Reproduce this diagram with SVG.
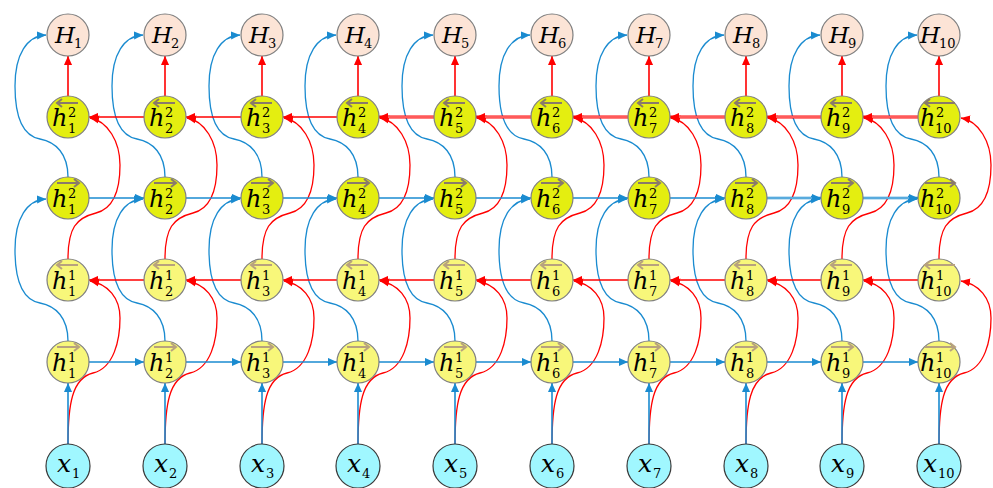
<svg xmlns="http://www.w3.org/2000/svg" width="993" height="488" viewBox="0 0 993 488">
<defs>
<marker id="mb" viewBox="0 0 10 10" refX="10" refY="5" markerWidth="9" markerHeight="9" markerUnits="userSpaceOnUse" orient="auto"><path d="M0,0.5 L10,5 L0,9.5 z" fill="#1A8BD0"/></marker>
<marker id="mr" viewBox="0 0 10 10" refX="10" refY="5" markerWidth="9" markerHeight="9" markerUnits="userSpaceOnUse" orient="auto"><path d="M0,0.5 L10,5 L0,9.5 z" fill="#FF0000"/></marker>
<path id="cA" d="M0,0 c0,-23 -12,-35 -28,-38 c-22,-4 -25,-33 -25,-53 c0,-32 12,-50 31,-51"/>
<path id="cB" d="M0,0 c0,-39 4,-66 25,-71 c21,-5 27,-33 27,-55 c0,-20 -12,-34 -30,-37"/>
<path id="cD" d="M0,0 c0,-31 8,-41 28,-46 c20,-5 24,-28 24,-48 c0,-23 -12,-44 -30,-47"/>
</defs>
<style>
.nH{fill:#FCE4D6;stroke:#7F7F7F;stroke-width:1.2}
.n2{fill:#E4EE10;stroke:#7F7F7F;stroke-width:1.2}
.n1{fill:#F8F77A;stroke:#7F7F7F;stroke-width:1.2}
.nX{fill:#A0F7FF;stroke:#3A3A3A;stroke-width:1.2}
.t{font-family:"DejaVu Serif","Liberation Serif",serif;font-style:italic;fill:#000}
.d{font-family:"DejaVu Serif","Liberation Serif",serif;font-style:normal;fill:#000;font-size:13px}
.ov2{fill:none;stroke:#8A7A6A;stroke-width:2}
.ov1{fill:none;stroke:#B8A27E;stroke-width:2}
.bl{fill:none;stroke:#1A8BD0;stroke-width:1.3;marker-end:url(#mb)}
.rd{fill:none;stroke:#FF0000;stroke-width:1.3;marker-end:url(#mr)}
.bs{fill:none;stroke:#1A8BD0;stroke-width:1.6;marker-end:url(#mb)}
.rs{fill:none;stroke:#FF0000;stroke-width:1.6;marker-end:url(#mr)}
.rw{fill:none;stroke:#FF0000;stroke-width:3;marker-end:url(#mr)}
.bw{fill:none;stroke:#1A8BD0;stroke-width:2.4;marker-end:url(#mb)}
.rc{fill:none;stroke:#FFB4B4;stroke-width:1}
.bc{fill:none;stroke:#CFE6F6;stroke-width:0.7}
</style>
<rect width="993" height="488" fill="#FFFFFF"/>
<g id="connectors">
<g transform="translate(68,0)"><use href="#cA" class="bl" y="341"/><use href="#cA" class="bl" y="177"/><use href="#cB" class="rd" y="444"/><use href="#cD" class="rd" y="259"/><line class="bs" x1="0" y1="444" x2="0" y2="383"/><line class="rs" x1="0" y1="96" x2="0" y2="56"/></g>
<g transform="translate(165,0)"><use href="#cA" class="bl" y="341"/><use href="#cA" class="bl" y="177"/><use href="#cB" class="rd" y="444"/><use href="#cD" class="rd" y="259"/><line class="bs" x1="0" y1="444" x2="0" y2="383"/><line class="rs" x1="0" y1="96" x2="0" y2="56"/></g>
<g transform="translate(262,0)"><use href="#cA" class="bl" y="341"/><use href="#cA" class="bl" y="177"/><use href="#cB" class="rd" y="444"/><use href="#cD" class="rd" y="259"/><line class="bs" x1="0" y1="444" x2="0" y2="383"/><line class="rs" x1="0" y1="96" x2="0" y2="56"/></g>
<g transform="translate(358,0)"><use href="#cA" class="bl" y="341"/><use href="#cA" class="bl" y="177"/><use href="#cB" class="rd" y="444"/><use href="#cD" class="rd" y="259"/><line class="bs" x1="0" y1="444" x2="0" y2="383"/><line class="rs" x1="0" y1="96" x2="0" y2="56"/></g>
<g transform="translate(455,0)"><use href="#cA" class="bl" y="341"/><use href="#cA" class="bl" y="177"/><use href="#cB" class="rd" y="444"/><use href="#cD" class="rd" y="259"/><line class="bs" x1="0" y1="444" x2="0" y2="383"/><line class="rs" x1="0" y1="96" x2="0" y2="56"/></g>
<g transform="translate(552,0)"><use href="#cA" class="bl" y="341"/><use href="#cA" class="bl" y="177"/><use href="#cB" class="rd" y="444"/><use href="#cD" class="rd" y="259"/><line class="bs" x1="0" y1="444" x2="0" y2="383"/><line class="rs" x1="0" y1="96" x2="0" y2="56"/></g>
<g transform="translate(649,0)"><use href="#cA" class="bl" y="341"/><use href="#cA" class="bl" y="177"/><use href="#cB" class="rd" y="444"/><use href="#cD" class="rd" y="259"/><line class="bs" x1="0" y1="444" x2="0" y2="383"/><line class="rs" x1="0" y1="96" x2="0" y2="56"/></g>
<g transform="translate(746,0)"><use href="#cA" class="bl" y="341"/><use href="#cA" class="bl" y="177"/><use href="#cB" class="rd" y="444"/><use href="#cD" class="rd" y="259"/><line class="bs" x1="0" y1="444" x2="0" y2="383"/><line class="rs" x1="0" y1="96" x2="0" y2="56"/></g>
<g transform="translate(842,0)"><use href="#cA" class="bl" y="341"/><use href="#cA" class="bl" y="177"/><use href="#cB" class="rd" y="444"/><use href="#cD" class="rd" y="259"/><line class="bs" x1="0" y1="444" x2="0" y2="383"/><line class="rs" x1="0" y1="96" x2="0" y2="56"/></g>
<g transform="translate(939,0)"><use href="#cA" class="bl" y="341"/><use href="#cA" class="bl" y="177"/><use href="#cB" class="rd" y="444"/><use href="#cD" class="rd" y="259"/><line class="bs" x1="0" y1="444" x2="0" y2="383"/><line class="rs" x1="0" y1="96" x2="0" y2="56"/></g>
<line class="bs" x1="89" y1="362" x2="144" y2="362"/><line class="bs" x1="186" y1="362" x2="241" y2="362"/><line class="bs" x1="283" y1="362" x2="337" y2="362"/><line class="bs" x1="379" y1="362" x2="434" y2="362"/><line class="bs" x1="476" y1="362" x2="531" y2="362"/><line class="bs" x1="573" y1="362" x2="628" y2="362"/><line class="bs" x1="670" y1="362" x2="725" y2="362"/><line class="bs" x1="767" y1="362" x2="821" y2="362"/><line class="bs" x1="863" y1="362" x2="918" y2="362"/>
<line class="bs" x1="89" y1="198" x2="144" y2="198"/><line class="bs" x1="186" y1="198" x2="241" y2="198"/><line class="bs" x1="283" y1="198" x2="337" y2="198"/><line class="bs" x1="379" y1="198" x2="434" y2="198"/><line class="bs" x1="476" y1="198" x2="531" y2="198"/><line class="bs" x1="573" y1="198" x2="628" y2="198"/><line class="bs" x1="670" y1="198" x2="725" y2="198"/><line class="bw" x1="767" y1="198" x2="821" y2="198"/><line class="bc" x1="767" y1="198" x2="812" y2="198"/><line class="bw" x1="863" y1="198" x2="918" y2="198"/><line class="bc" x1="863" y1="198" x2="909" y2="198"/>
<line class="rs" x1="144" y1="280" x2="89" y2="280"/><line class="rs" x1="241" y1="280" x2="186" y2="280"/><line class="rs" x1="337" y1="280" x2="283" y2="280"/><line class="rs" x1="434" y1="280" x2="379" y2="280"/><line class="rs" x1="531" y1="280" x2="476" y2="280"/><line class="rs" x1="628" y1="280" x2="573" y2="280"/><line class="rs" x1="725" y1="280" x2="670" y2="280"/><line class="rs" x1="821" y1="280" x2="767" y2="280"/><line class="rs" x1="918" y1="280" x2="863" y2="280"/>
<line class="rs" x1="144" y1="117" x2="89" y2="117"/><line class="rs" x1="241" y1="117" x2="186" y2="117"/><line class="rs" x1="337" y1="117" x2="283" y2="117"/>
<line class="rw" x1="434" y1="117" x2="379" y2="117"/><line class="rc" x1="434" y1="117" x2="388" y2="117"/>
<line class="rw" x1="531" y1="117" x2="476" y2="117"/><line class="rc" x1="531" y1="117" x2="485" y2="117"/>
<line class="rw" x1="628" y1="117" x2="573" y2="117"/><line class="rc" x1="628" y1="117" x2="582" y2="117"/>
<line class="rw" x1="725" y1="117" x2="670" y2="117"/><line class="rc" x1="725" y1="117" x2="679" y2="117"/>
<line class="rw" x1="821" y1="117" x2="767" y2="117"/><line class="rc" x1="821" y1="117" x2="776" y2="117"/>
<line class="rw" x1="918" y1="117" x2="863" y2="117"/><line class="rc" x1="918" y1="117" x2="872" y2="117"/>
</g>
<g id="nodes">
<g id="H1" transform="translate(68,35)"><circle class="nH" r="21"/><text class="t" x="-13" y="8" font-size="23">H</text><text class="d" x="6" y="13">1</text></g>
<g id="H2" transform="translate(165,35)"><circle class="nH" r="21"/><text class="t" x="-13" y="8" font-size="23">H</text><text class="d" x="6" y="13">2</text></g>
<g id="H3" transform="translate(262,35)"><circle class="nH" r="21"/><text class="t" x="-13" y="8" font-size="23">H</text><text class="d" x="6" y="13">3</text></g>
<g id="H4" transform="translate(358,35)"><circle class="nH" r="21"/><text class="t" x="-13" y="8" font-size="23">H</text><text class="d" x="6" y="13">4</text></g>
<g id="H5" transform="translate(455,35)"><circle class="nH" r="21"/><text class="t" x="-13" y="8" font-size="23">H</text><text class="d" x="6" y="13">5</text></g>
<g id="H6" transform="translate(552,35)"><circle class="nH" r="21"/><text class="t" x="-13" y="8" font-size="23">H</text><text class="d" x="6" y="13">6</text></g>
<g id="H7" transform="translate(649,35)"><circle class="nH" r="21"/><text class="t" x="-13" y="8" font-size="23">H</text><text class="d" x="6" y="13">7</text></g>
<g id="H8" transform="translate(746,35)"><circle class="nH" r="21"/><text class="t" x="-13" y="8" font-size="23">H</text><text class="d" x="6" y="13">8</text></g>
<g id="H9" transform="translate(842,35)"><circle class="nH" r="21"/><text class="t" x="-13" y="8" font-size="23">H</text><text class="d" x="6" y="13">9</text></g>
<g id="H10" transform="translate(939,35)"><circle class="nH" r="21"/><text class="t" x="-19" y="8" font-size="23">H</text><text class="d" x="0" y="13">10</text></g>
<g id="h2b1" transform="translate(68,117)"><circle class="n2" r="21"/><path class="ov2" d="M10,-14 H-11 M-6,-18 L-11,-14 L-6,-10"/><text class="t" x="-16" y="9" font-size="24">h</text><text class="d" x="0" y="0">2</text><text class="d" x="0" y="16">1</text></g>
<g id="h2b2" transform="translate(165,117)"><circle class="n2" r="21"/><path class="ov2" d="M10,-14 H-11 M-6,-18 L-11,-14 L-6,-10"/><text class="t" x="-16" y="9" font-size="24">h</text><text class="d" x="0" y="0">2</text><text class="d" x="0" y="16">2</text></g>
<g id="h2b3" transform="translate(262,117)"><circle class="n2" r="21"/><path class="ov2" d="M10,-14 H-11 M-6,-18 L-11,-14 L-6,-10"/><text class="t" x="-16" y="9" font-size="24">h</text><text class="d" x="0" y="0">2</text><text class="d" x="0" y="16">3</text></g>
<g id="h2b4" transform="translate(358,117)"><circle class="n2" r="21"/><path class="ov2" d="M10,-14 H-11 M-6,-18 L-11,-14 L-6,-10"/><text class="t" x="-16" y="9" font-size="24">h</text><text class="d" x="0" y="0">2</text><text class="d" x="0" y="16">4</text></g>
<g id="h2b5" transform="translate(455,117)"><circle class="n2" r="21"/><path class="ov2" d="M10,-14 H-11 M-6,-18 L-11,-14 L-6,-10"/><text class="t" x="-16" y="9" font-size="24">h</text><text class="d" x="0" y="0">2</text><text class="d" x="0" y="16">5</text></g>
<g id="h2b6" transform="translate(552,117)"><circle class="n2" r="21"/><path class="ov2" d="M10,-14 H-11 M-6,-18 L-11,-14 L-6,-10"/><text class="t" x="-16" y="9" font-size="24">h</text><text class="d" x="0" y="0">2</text><text class="d" x="0" y="16">6</text></g>
<g id="h2b7" transform="translate(649,117)"><circle class="n2" r="21"/><path class="ov2" d="M10,-14 H-11 M-6,-18 L-11,-14 L-6,-10"/><text class="t" x="-16" y="9" font-size="24">h</text><text class="d" x="0" y="0">2</text><text class="d" x="0" y="16">7</text></g>
<g id="h2b8" transform="translate(746,117)"><circle class="n2" r="21"/><path class="ov2" d="M10,-14 H-11 M-6,-18 L-11,-14 L-6,-10"/><text class="t" x="-16" y="9" font-size="24">h</text><text class="d" x="0" y="0">2</text><text class="d" x="0" y="16">8</text></g>
<g id="h2b9" transform="translate(842,117)"><circle class="n2" r="21"/><path class="ov2" d="M10,-14 H-11 M-6,-18 L-11,-14 L-6,-10"/><text class="t" x="-16" y="9" font-size="24">h</text><text class="d" x="0" y="0">2</text><text class="d" x="0" y="16">9</text></g>
<g id="h2b10" transform="translate(939,117)"><circle class="n2" r="21"/><path class="ov2" d="M16,-14 H-14 M-9,-18 L-14,-14 L-9,-10"/><text class="t" x="-19" y="9" font-size="24">h</text><text class="d" x="-3" y="0">2</text><text class="d" x="-4" y="16">10</text></g>
<g id="h2f1" transform="translate(68,198)"><circle class="n2" r="21"/><path class="ov2" d="M-11,-15 H11 M6,-19 L11,-15 L6,-11"/><text class="t" x="-16" y="9" font-size="24">h</text><text class="d" x="0" y="0">2</text><text class="d" x="0" y="16">1</text></g>
<g id="h2f2" transform="translate(165,198)"><circle class="n2" r="21"/><path class="ov2" d="M-11,-15 H11 M6,-19 L11,-15 L6,-11"/><text class="t" x="-16" y="9" font-size="24">h</text><text class="d" x="0" y="0">2</text><text class="d" x="0" y="16">2</text></g>
<g id="h2f3" transform="translate(262,198)"><circle class="n2" r="21"/><path class="ov2" d="M-11,-15 H11 M6,-19 L11,-15 L6,-11"/><text class="t" x="-16" y="9" font-size="24">h</text><text class="d" x="0" y="0">2</text><text class="d" x="0" y="16">3</text></g>
<g id="h2f4" transform="translate(358,198)"><circle class="n2" r="21"/><path class="ov2" d="M-11,-15 H11 M6,-19 L11,-15 L6,-11"/><text class="t" x="-16" y="9" font-size="24">h</text><text class="d" x="0" y="0">2</text><text class="d" x="0" y="16">4</text></g>
<g id="h2f5" transform="translate(455,198)"><circle class="n2" r="21"/><path class="ov2" d="M-11,-15 H11 M6,-19 L11,-15 L6,-11"/><text class="t" x="-16" y="9" font-size="24">h</text><text class="d" x="0" y="0">2</text><text class="d" x="0" y="16">5</text></g>
<g id="h2f6" transform="translate(552,198)"><circle class="n2" r="21"/><path class="ov2" d="M-11,-15 H11 M6,-19 L11,-15 L6,-11"/><text class="t" x="-16" y="9" font-size="24">h</text><text class="d" x="0" y="0">2</text><text class="d" x="0" y="16">6</text></g>
<g id="h2f7" transform="translate(649,198)"><circle class="n2" r="21"/><path class="ov2" d="M-11,-15 H11 M6,-19 L11,-15 L6,-11"/><text class="t" x="-16" y="9" font-size="24">h</text><text class="d" x="0" y="0">2</text><text class="d" x="0" y="16">7</text></g>
<g id="h2f8" transform="translate(746,198)"><circle class="n2" r="21"/><path class="ov2" d="M-11,-15 H11 M6,-19 L11,-15 L6,-11"/><text class="t" x="-16" y="9" font-size="24">h</text><text class="d" x="0" y="0">2</text><text class="d" x="0" y="16">8</text></g>
<g id="h2f9" transform="translate(842,198)"><circle class="n2" r="21"/><path class="ov2" d="M-11,-15 H11 M6,-19 L11,-15 L6,-11"/><text class="t" x="-16" y="9" font-size="24">h</text><text class="d" x="0" y="0">2</text><text class="d" x="0" y="16">9</text></g>
<g id="h2f10" transform="translate(939,198)"><circle class="n2" r="21"/><path class="ov2" d="M-14,-15 H16 M11,-19 L16,-15 L11,-11"/><text class="t" x="-19" y="9" font-size="24">h</text><text class="d" x="-3" y="0">2</text><text class="d" x="-4" y="16">10</text></g>
<g id="h1b1" transform="translate(68,280)"><circle class="n1" r="21"/><path class="ov1" d="M10,-15 H-11 M-6,-19 L-11,-15 L-6,-11"/><text class="t" x="-16" y="9" font-size="24">h</text><text class="d" x="0" y="0">1</text><text class="d" x="0" y="16">1</text></g>
<g id="h1b2" transform="translate(165,280)"><circle class="n1" r="21"/><path class="ov1" d="M10,-15 H-11 M-6,-19 L-11,-15 L-6,-11"/><text class="t" x="-16" y="9" font-size="24">h</text><text class="d" x="0" y="0">1</text><text class="d" x="0" y="16">2</text></g>
<g id="h1b3" transform="translate(262,280)"><circle class="n1" r="21"/><path class="ov1" d="M10,-15 H-11 M-6,-19 L-11,-15 L-6,-11"/><text class="t" x="-16" y="9" font-size="24">h</text><text class="d" x="0" y="0">1</text><text class="d" x="0" y="16">3</text></g>
<g id="h1b4" transform="translate(358,280)"><circle class="n1" r="21"/><path class="ov1" d="M10,-15 H-11 M-6,-19 L-11,-15 L-6,-11"/><text class="t" x="-16" y="9" font-size="24">h</text><text class="d" x="0" y="0">1</text><text class="d" x="0" y="16">4</text></g>
<g id="h1b5" transform="translate(455,280)"><circle class="n1" r="21"/><path class="ov1" d="M10,-15 H-11 M-6,-19 L-11,-15 L-6,-11"/><text class="t" x="-16" y="9" font-size="24">h</text><text class="d" x="0" y="0">1</text><text class="d" x="0" y="16">5</text></g>
<g id="h1b6" transform="translate(552,280)"><circle class="n1" r="21"/><path class="ov1" d="M10,-15 H-11 M-6,-19 L-11,-15 L-6,-11"/><text class="t" x="-16" y="9" font-size="24">h</text><text class="d" x="0" y="0">1</text><text class="d" x="0" y="16">6</text></g>
<g id="h1b7" transform="translate(649,280)"><circle class="n1" r="21"/><path class="ov1" d="M10,-15 H-11 M-6,-19 L-11,-15 L-6,-11"/><text class="t" x="-16" y="9" font-size="24">h</text><text class="d" x="0" y="0">1</text><text class="d" x="0" y="16">7</text></g>
<g id="h1b8" transform="translate(746,280)"><circle class="n1" r="21"/><path class="ov1" d="M10,-15 H-11 M-6,-19 L-11,-15 L-6,-11"/><text class="t" x="-16" y="9" font-size="24">h</text><text class="d" x="0" y="0">1</text><text class="d" x="0" y="16">8</text></g>
<g id="h1b9" transform="translate(842,280)"><circle class="n1" r="21"/><path class="ov1" d="M10,-15 H-11 M-6,-19 L-11,-15 L-6,-11"/><text class="t" x="-16" y="9" font-size="24">h</text><text class="d" x="0" y="0">1</text><text class="d" x="0" y="16">9</text></g>
<g id="h1b10" transform="translate(939,280)"><circle class="n1" r="21"/><path class="ov1" d="M16,-15 H-14 M-9,-19 L-14,-15 L-9,-11"/><text class="t" x="-19" y="9" font-size="24">h</text><text class="d" x="-3" y="0">1</text><text class="d" x="-4" y="16">10</text></g>
<g id="h1f1" transform="translate(68,362)"><circle class="n1" r="21"/><path class="ov1" d="M-11,-15 H11 M6,-19 L11,-15 L6,-11"/><text class="t" x="-16" y="9" font-size="24">h</text><text class="d" x="0" y="0">1</text><text class="d" x="0" y="16">1</text></g>
<g id="h1f2" transform="translate(165,362)"><circle class="n1" r="21"/><path class="ov1" d="M-11,-15 H11 M6,-19 L11,-15 L6,-11"/><text class="t" x="-16" y="9" font-size="24">h</text><text class="d" x="0" y="0">1</text><text class="d" x="0" y="16">2</text></g>
<g id="h1f3" transform="translate(262,362)"><circle class="n1" r="21"/><path class="ov1" d="M-11,-15 H11 M6,-19 L11,-15 L6,-11"/><text class="t" x="-16" y="9" font-size="24">h</text><text class="d" x="0" y="0">1</text><text class="d" x="0" y="16">3</text></g>
<g id="h1f4" transform="translate(358,362)"><circle class="n1" r="21"/><path class="ov1" d="M-11,-15 H11 M6,-19 L11,-15 L6,-11"/><text class="t" x="-16" y="9" font-size="24">h</text><text class="d" x="0" y="0">1</text><text class="d" x="0" y="16">4</text></g>
<g id="h1f5" transform="translate(455,362)"><circle class="n1" r="21"/><path class="ov1" d="M-11,-15 H11 M6,-19 L11,-15 L6,-11"/><text class="t" x="-16" y="9" font-size="24">h</text><text class="d" x="0" y="0">1</text><text class="d" x="0" y="16">5</text></g>
<g id="h1f6" transform="translate(552,362)"><circle class="n1" r="21"/><path class="ov1" d="M-11,-15 H11 M6,-19 L11,-15 L6,-11"/><text class="t" x="-16" y="9" font-size="24">h</text><text class="d" x="0" y="0">1</text><text class="d" x="0" y="16">6</text></g>
<g id="h1f7" transform="translate(649,362)"><circle class="n1" r="21"/><path class="ov1" d="M-11,-15 H11 M6,-19 L11,-15 L6,-11"/><text class="t" x="-16" y="9" font-size="24">h</text><text class="d" x="0" y="0">1</text><text class="d" x="0" y="16">7</text></g>
<g id="h1f8" transform="translate(746,362)"><circle class="n1" r="21"/><path class="ov1" d="M-11,-15 H11 M6,-19 L11,-15 L6,-11"/><text class="t" x="-16" y="9" font-size="24">h</text><text class="d" x="0" y="0">1</text><text class="d" x="0" y="16">8</text></g>
<g id="h1f9" transform="translate(842,362)"><circle class="n1" r="21"/><path class="ov1" d="M-11,-15 H11 M6,-19 L11,-15 L6,-11"/><text class="t" x="-16" y="9" font-size="24">h</text><text class="d" x="0" y="0">1</text><text class="d" x="0" y="16">9</text></g>
<g id="h1f10" transform="translate(939,362)"><circle class="n1" r="21"/><path class="ov1" d="M-14,-15 H16 M11,-19 L16,-15 L11,-11"/><text class="t" x="-19" y="9" font-size="24">h</text><text class="d" x="-3" y="0">1</text><text class="d" x="-4" y="16">10</text></g>
<g id="x1" transform="translate(68,466)"><circle class="nX" r="22"/><text class="t" x="-11" y="6" font-size="25">x</text><text class="d" x="4" y="12">1</text></g>
<g id="x2" transform="translate(165,466)"><circle class="nX" r="22"/><text class="t" x="-11" y="6" font-size="25">x</text><text class="d" x="4" y="12">2</text></g>
<g id="x3" transform="translate(262,466)"><circle class="nX" r="22"/><text class="t" x="-11" y="6" font-size="25">x</text><text class="d" x="4" y="12">3</text></g>
<g id="x4" transform="translate(358,466)"><circle class="nX" r="22"/><text class="t" x="-11" y="6" font-size="25">x</text><text class="d" x="4" y="12">4</text></g>
<g id="x5" transform="translate(455,466)"><circle class="nX" r="22"/><text class="t" x="-11" y="6" font-size="25">x</text><text class="d" x="4" y="12">5</text></g>
<g id="x6" transform="translate(552,466)"><circle class="nX" r="22"/><text class="t" x="-11" y="6" font-size="25">x</text><text class="d" x="4" y="12">6</text></g>
<g id="x7" transform="translate(649,466)"><circle class="nX" r="22"/><text class="t" x="-11" y="6" font-size="25">x</text><text class="d" x="4" y="12">7</text></g>
<g id="x8" transform="translate(746,466)"><circle class="nX" r="22"/><text class="t" x="-11" y="6" font-size="25">x</text><text class="d" x="4" y="12">8</text></g>
<g id="x9" transform="translate(842,466)"><circle class="nX" r="22"/><text class="t" x="-11" y="6" font-size="25">x</text><text class="d" x="4" y="12">9</text></g>
<g id="x10" transform="translate(939,466)"><circle class="nX" r="22"/><text class="t" x="-16" y="6" font-size="25">x</text><text class="d" x="-1" y="12">10</text></g>
</g>
</svg>
